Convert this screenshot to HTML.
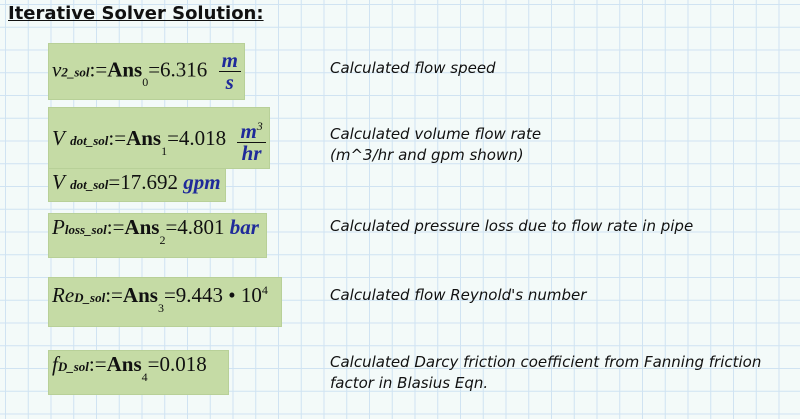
<!DOCTYPE html>
<html><head><meta charset="utf-8"><style>
body{margin:0;width:800px;height:419px;overflow:hidden;position:relative;
background-color:#f3faf9;
background-image:linear-gradient(to right,#cfe3f2 1px,transparent 1px),linear-gradient(to bottom,#cfe3f2 1px,transparent 1px);
background-size:22.75px 22.75px;background-position:5px 4px;font-family:"Liberation Serif",serif;}
.t{position:absolute;left:8px;top:3px;font:bold 18px "DejaVu Sans",sans-serif;text-decoration:underline;color:#111;}
.b{position:absolute;background:#c5dba5;border:1px solid #b8d098;}
.m{position:absolute;font-size:21px;color:#111;white-space:nowrap;}
.i{font-style:italic}
.s{font-size:13px;font-style:italic;font-weight:bold;}
.u{color:#1f2a9a;font-weight:bold;font-style:italic;}
.c{position:absolute;left:330px;font:italic 15px "DejaVu Sans",sans-serif;color:#111;line-height:21px;white-space:nowrap;}
.frac{display:inline-block;vertical-align:middle;text-align:center;line-height:21px;margin-left:6px}
.frac span{display:block}
.frac .n{border-bottom:1.5px solid #111;padding:0 3px}
.sub{font-size:12px;position:relative;top:10px}
</style></head><body>
<div class="t">Iterative Solver Solution:</div>

<div class="b" style="left:48px;top:43px;width:195px;height:55px"></div>
<div class="m" style="left:52px;top:50px"><span class="i">v</span><span class="s">2_sol</span>:=<b>Ans</b><span class="sub">0</span>=6.316 <span class="frac u"><span class="n">m</span><span>s</span></span></div>

<div class="b" style="left:48px;top:107px;width:220px;height:60px"></div>
<div class="m" style="left:52px;top:116px"><span class="i">V</span> <span class="s">dot_sol</span>:=<b>Ans</b><span class="sub">1</span>=4.018 <span class="frac u"><span class="n">m<sup style="font-size:12px;color:#111;font-weight:normal">3</sup></span><span>hr</span></span></div>

<div class="b" style="left:48px;top:168px;width:176px;height:32px"></div>
<div class="m" style="left:52px;top:170px"><span class="i">V</span> <span class="s">dot_sol</span>=17.692 <span class="u">gpm</span></div>

<div class="b" style="left:48px;top:213px;width:217px;height:43px"></div>
<div class="m" style="left:52px;top:215px"><span class="i">P</span><span class="s">loss_sol</span>:=<b>Ans</b><span class="sub">2</span>=4.801 <span class="u">bar</span></div>

<div class="b" style="left:48px;top:277px;width:232px;height:48px"></div>
<div class="m" style="left:52px;top:283px"><span class="i">Re</span><span class="s">D_sol</span>:=<b>Ans</b><span class="sub">3</span>=9.443 • 10<sup style="font-size:12px">4</sup></div>

<div class="b" style="left:48px;top:350px;width:179px;height:43px"></div>
<div class="m" style="left:52px;top:352px"><span class="i">f</span><span class="s">D_sol</span>:=<b>Ans</b><span class="sub">4</span>=0.018</div>

<div class="c" style="top:58px">Calculated flow speed</div>
<div class="c" style="top:124px">Calculated volume flow rate<br>(m^3/hr and gpm shown)</div>
<div class="c" style="top:216px">Calculated pressure loss due to flow rate in pipe</div>
<div class="c" style="top:285px">Calculated flow Reynold's number</div>
<div class="c" style="top:352px">Calculated Darcy friction coefficient from Fanning friction<br>factor in Blasius Eqn.</div>
</body></html>
